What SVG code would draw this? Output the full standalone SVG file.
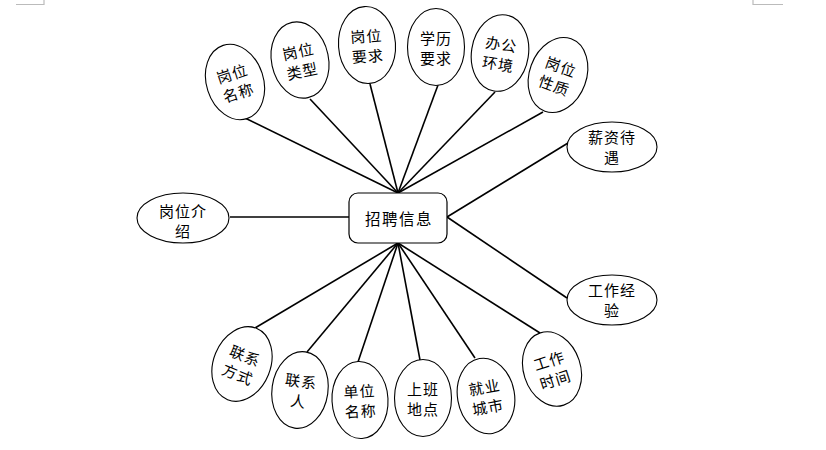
<svg xmlns="http://www.w3.org/2000/svg" width="826" height="450" viewBox="0 0 826 450">
<style>
.e{fill:#fff;stroke:#000;stroke-width:1.1}
.t{font-family:"Noto Sans CJK SC","Noto Sans",sans-serif;font-size:15px;fill:#000;text-anchor:middle;dominant-baseline:central;letter-spacing:1px}
.c line{stroke:#000;stroke-width:1.6}
.m{stroke:#bbb;stroke-width:1.2;fill:none}
</style>
<rect width="826" height="450" fill="#fff"/>
<path class="m" d="M16 4.5H44V0"/>
<path class="m" d="M783 4.5H753V0"/>
<g id="connectors" class="c">
<line x1="245" y1="118" x2="398" y2="193"/>
<line x1="310" y1="99" x2="398" y2="193"/>
<line x1="370" y1="84" x2="398" y2="193"/>
<line x1="438" y1="85" x2="398" y2="193"/>
<line x1="495" y1="92" x2="398" y2="193"/>
<line x1="543" y1="112" x2="398" y2="193"/>
<line x1="230" y1="217" x2="349" y2="217"/>
<line x1="568" y1="143" x2="447" y2="217"/>
<line x1="567" y1="298" x2="447" y2="217"/>
<line x1="255" y1="328" x2="398" y2="243"/>
<line x1="307" y1="352" x2="398" y2="243"/>
<line x1="358" y1="362" x2="398" y2="243"/>
<line x1="420" y1="360" x2="398" y2="243"/>
<line x1="475" y1="358" x2="398" y2="243"/>
<line x1="540" y1="333" x2="398" y2="243"/>
</g>
<g id="center">
<rect x="349" y="193" width="98" height="50" rx="9" fill="#fff" stroke="#000" stroke-width="1.2"/>
<text class="t" x="399" y="218" style="letter-spacing:1.5px;font-size:15.5px">招聘信息</text>
</g>
<g id="n1" transform="translate(235,82) rotate(-18)"><ellipse class="e" rx="28.5" ry="38.5"/><text class="t"><tspan x="0" y="-10">岗位</tspan><tspan x="0" y="10">名称</tspan></text></g>
<g id="n2" transform="translate(300,60) rotate(-12)"><ellipse class="e" rx="28.5" ry="38.5"/><text class="t"><tspan x="0" y="-10">岗位</tspan><tspan x="0" y="10">类型</tspan></text></g>
<g id="n3" transform="translate(367,45) rotate(-4)"><ellipse class="e" rx="28.5" ry="38.5"/><text class="t"><tspan x="0" y="-10">岗位</tspan><tspan x="0" y="10">要求</tspan></text></g>
<g id="n4" transform="translate(436,47)"><ellipse class="e" rx="28.5" ry="38.5"/><text class="t"><tspan x="0" y="-10">学历</tspan><tspan x="0" y="10">要求</tspan></text></g>
<g id="n5" transform="translate(500,53) rotate(9)"><ellipse class="e" rx="28.5" ry="38.5"/><text class="t"><tspan x="0" y="-10">办公</tspan><tspan x="0" y="10">环境</tspan></text></g>
<g id="n6" transform="translate(558,75) rotate(20)"><ellipse class="e" rx="28.5" ry="38.5"/><text class="t"><tspan x="0" y="-10">岗位</tspan><tspan x="0" y="10">性质</tspan></text></g>
<g id="n7" transform="translate(183,218)"><ellipse class="e" rx="46" ry="25"/><text class="t"><tspan x="0" y="-8.5">岗位介</tspan><tspan x="0" y="11.5">绍</tspan></text></g>
<g id="n8" transform="translate(612,147)"><ellipse class="e" rx="45" ry="25"/><text class="t"><tspan x="0" y="-11">薪资待</tspan><tspan x="0" y="9">遇</tspan></text></g>
<g id="n9" transform="translate(612,300)"><ellipse class="e" rx="45" ry="25"/><text class="t"><tspan x="0" y="-11">工作经</tspan><tspan x="0" y="9">验</tspan></text></g>
<g id="n10" transform="translate(242,364) rotate(22)"><ellipse class="e" rx="28.5" ry="38.5"/><text class="t"><tspan x="0" y="-10">联系</tspan><tspan x="0" y="10">方式</tspan></text></g>
<g id="n11" transform="translate(300,390) rotate(8)"><ellipse class="e" rx="28" ry="38.5"/><text class="t"><tspan x="0" y="-10">联系</tspan><tspan x="0" y="10">人</tspan></text></g>
<g id="n12" transform="translate(360,400) rotate(-3)"><ellipse class="e" rx="28" ry="38.5"/><text class="t"><tspan x="0" y="-10">单位</tspan><tspan x="0" y="10">名称</tspan></text></g>
<g id="n13" transform="translate(423,398)"><ellipse class="e" rx="28.5" ry="38.5"/><text class="t"><tspan x="0" y="-10">上班</tspan><tspan x="0" y="10">地点</tspan></text></g>
<g id="n14" transform="translate(486,396) rotate(-10)"><ellipse class="e" rx="28.5" ry="38"/><text class="t"><tspan x="0" y="-10">就业</tspan><tspan x="0" y="10">城市</tspan></text></g>
<g id="n15" transform="translate(552,369) rotate(-18)"><ellipse class="e" rx="28.5" ry="38"/><text class="t"><tspan x="0" y="-10">工作</tspan><tspan x="0" y="10">时间</tspan></text></g>
</svg>
